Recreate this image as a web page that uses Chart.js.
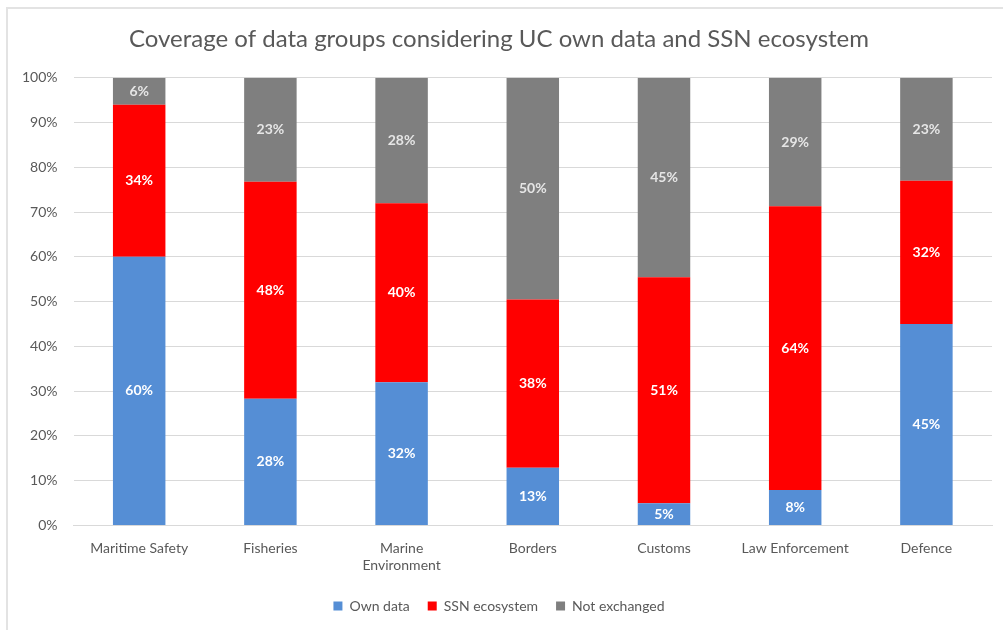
<!DOCTYPE html>
<html>
<head>
<meta charset="utf-8">
<script src="https://cdn.jsdelivr.net/npm/chart.js@4"></script>
<style>
  html, body { margin: 0; padding: 0; background: #fff; }
  #wrap { position: relative; width: 1003px; height: 630px; }
  #frame { position: absolute; left: 6px; top: 7px; right: 0; bottom: 0;
           border-left: 2px solid #e3e3e3; border-top: 2px solid #e3e3e3; }
  #chartBox { position: absolute; left: 0; top: 0; width: 1003px; height: 630px; }
</style>
</head>
<body>
<div id="wrap">
  <div id="frame"></div>
  <div id="chartBox"><canvas id="myChart"></canvas></div>
</div>
<script>
const labels = [
  "Maritime Safety",
  "Fisheries",
  ["Marine", "Environment"],
  "Borders",
  "Customs",
  "Law Enforcement",
  "Defence",
];

const ownData = [60, 28, 32, 13, 5, 8, 45];
const ssnData = [34, 48, 40, 38, 51, 64, 32];
const notExchanged = [6, 23, 28, 50, 45, 29, 23];

const yTicks = [0, 10, 20, 30, 40, 50, 60, 70, 80, 90, 100];

// 100% stacked: scale each column to its own total
const totals = ownData.map((v, i) => v + ssnData[i] + notExchanged[i]);
const share = (arr) => arr.map((v, i) => (v / totals[i]) * 100);

const fontFam = "Lato, 'Open Sans', sans-serif";

// draws the percentage in the middle of each segment
const segmentLabels = {
  id: "segmentLabels",
  afterDatasetsDraw(chart) {
    const ctx = chart.ctx;
    ctx.save();
    ctx.font = "bold 14px " + fontFam;
    ctx.textAlign = "center";
    ctx.textBaseline = "middle";
    chart.data.datasets.forEach((ds, di) => {
      const meta = chart.getDatasetMeta(di);
      meta.data.forEach((bar, i) => {
        const mid = (bar.y + bar.base) / 2;
        ctx.fillStyle = ds.labelColor;
        ctx.fillText(ds.raw[i] + "%", bar.x, mid);
      });
    });
    ctx.restore();
  },
};

const data = {
  labels: labels,
  datasets: [
    {
      label: "Own data",
      backgroundColor: "#558ed5",
      data: share(ownData),
      raw: ownData,
      labelColor: "#ffffff",
    },
    {
      label: "SSN ecosystem",
      backgroundColor: "#ff0000",
      data: share(ssnData),
      raw: ssnData,
      labelColor: "#ffffff",
    },
    {
      label: "Not exchanged",
      backgroundColor: "#7f7f7f",
      data: share(notExchanged),
      raw: notExchanged,
      labelColor: "#e6e6e6",
    },
  ],
};

const config = {
  type: "bar",
  data: data,
  plugins: [segmentLabels],
  options: {
    responsive: true,
    maintainAspectRatio: false,
    animation: false,
    layout: { padding: { left: 6, right: 11, top: 12, bottom: 7 } },
    datasets: {
      bar: { barPercentage: 0.8, categoryPercentage: 0.5 },
    },
    plugins: {
      title: {
        display: true,
        text: "Coverage of data groups considering UC own data and SSN ecosystem",
        color: "#595959",
        font: { family: fontFam, size: 24, weight: "normal" },
        padding: { top: 13, bottom: 24 },
      },
      legend: {
        position: "bottom",
        labels: {
          color: "#595959",
          font: { family: fontFam, size: 14 },
          boxWidth: 9,
          boxHeight: 9,
          padding: 18,
        },
      },
      tooltip: { enabled: false },
    },
    scales: {
      x: {
        stacked: true,
        grid: { display: false },
        border: { color: "#d9d9d9", width: 1 },
        ticks: {
          color: "#595959",
          font: { family: fontFam, size: 14 },
          maxRotation: 0,
          autoSkip: false,
          padding: 7,
        },
      },
      y: {
        stacked: true,
        min: 0,
        max: 100,
        afterBuildTicks: (axis) => {
          axis.ticks = yTicks.map((v) => ({ value: v }));
        },
        grid: { color: "#d9d9d9", drawTicks: false },
        border: { display: false },
        ticks: {
          color: "#595959",
          font: { family: fontFam, size: 14 },
          padding: 16,
          callback: (v) => v + "%",
        },
      },
    },
  },
};

const myChart = new Chart(document.querySelector("#myChart"), config);
</script>
</body>
</html>
